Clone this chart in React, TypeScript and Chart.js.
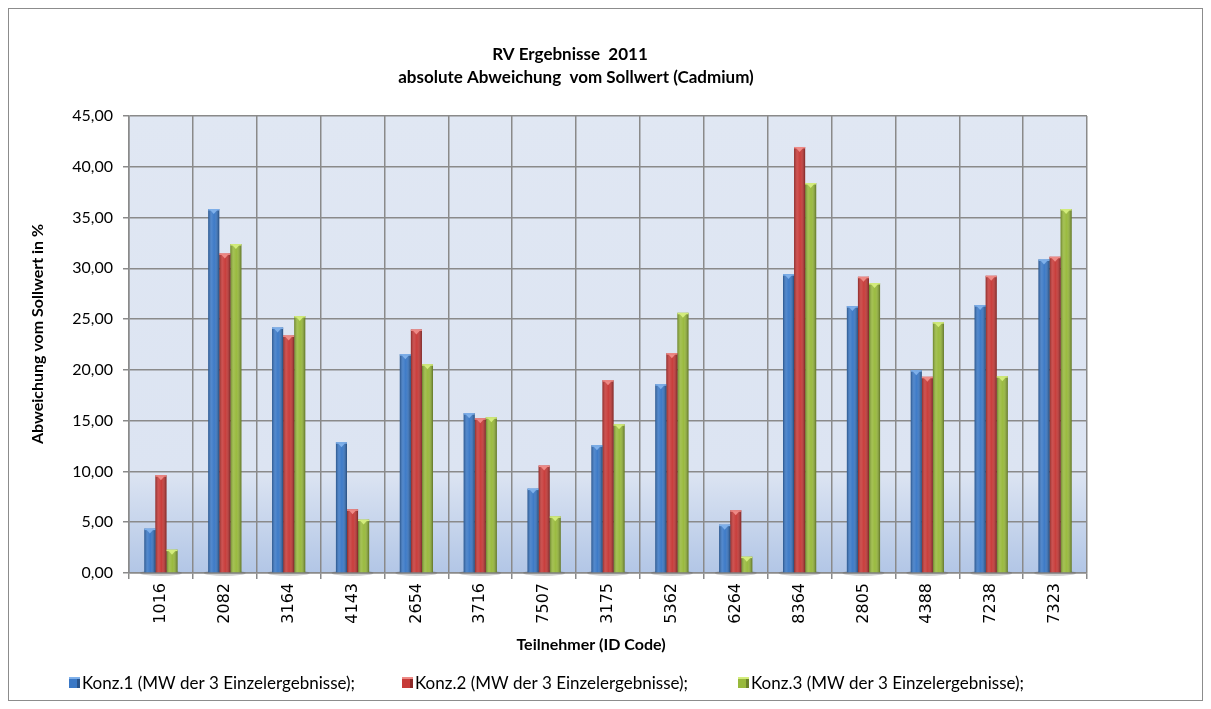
import React, { useEffect, useRef } from 'react';
import { Chart, registerables } from 'chart.js';

Chart.register(...registerables);

const categories = ['1016', '2082', '3164', '4143', '2654', '3716', '7507', '3175', '5362', '6264', '8364', '2805', '4388', '7238', '7323'];
const konz1 = [4.37, 35.84, 24.18, 12.88, 21.55, 15.74, 8.31, 12.58, 18.59, 4.76, 29.43, 26.28, 19.97, 26.38, 30.88];
const konz2 = [9.63, 31.47, 23.39, 6.27, 23.98, 15.24, 10.58, 18.99, 21.65, 6.18, 41.95, 29.17, 19.32, 29.27, 31.14];
const konz3 = [2.3, 32.39, 25.3, 5.26, 20.56, 15.34, 5.58, 14.65, 25.62, 1.61, 38.4, 28.55, 24.7, 19.38, 35.84];
const seriesLabels = ['Konz.1 (MW der 3 Einzelergebnisse);', 'Konz.2 (MW der 3 Einzelergebnisse);', 'Konz.3 (MW der 3 Einzelergebnisse);'];
const titleLines = ['RV Ergebnisse  2011', 'absolute Abweichung  vom Sollwert (Cadmium)'];
const xTitle = 'Teilnehmer (ID Code)';
const yTitle = 'Abweichung vom Sollwert in %';
const yMin = 0;
const yMax = 45;
const yStep = 5;

const seriesColors = ['#3a78c6', '#c73a38', '#98b93c'];
const capColors = ['#7fb0ea', '#ee8a86', '#d3ec7c'];

const FONT = 'Lato, "Open Sans", "Noto Sans", sans-serif';

export default function App() {
  const ref = useRef<HTMLCanvasElement | null>(null);

  useEffect(() => {
    if (!ref.current) return;

    const bgPlugin = {
      id: 'bgPlugin',
      beforeDraw(chart: any) {
        const { ctx, chartArea: a } = chart;
        const g = ctx.createLinearGradient(0, a.top, 0, a.bottom);
        g.addColorStop(0, '#e0e7f3');
        g.addColorStop(0.78, '#dce4f2');
        g.addColorStop(1, '#b2c6e6');
        ctx.save();
        ctx.fillStyle = g;
        ctx.fillRect(a.left, a.top, a.right - a.left, a.bottom - a.top);
        ctx.restore();
      },
      beforeDatasetsDraw(chart: any) {
        const { ctx, chartArea: a } = chart;
        const xs = chart.scales.x;
        ctx.save();
        categories.forEach((_, i) => {
          const cx = xs.getPixelForValue(i);
          ctx.fillStyle = 'rgba(90,90,90,0.28)';
          ctx.beginPath();
          ctx.ellipse(cx, a.bottom, 21, 3, 0, 0, Math.PI * 2);
          ctx.fill();
        });
        ctx.restore();
      },
      afterDatasetsDraw(chart: any) {
        const { ctx } = chart;
        ctx.save();
        chart.data.datasets.forEach((_: any, di: number) => {
          const meta = chart.getDatasetMeta(di);
          meta.data.forEach((bar: any) => {
            const { x, y, base, width } = bar.getProps(['x', 'y', 'base', 'width'], true);
            const left = x - width / 2;
            const h = base - y;
            const g = ctx.createLinearGradient(left, 0, left + width, 0);
            g.addColorStop(0, 'rgba(0,0,0,0.30)');
            g.addColorStop(0.3, 'rgba(255,255,255,0.12)');
            g.addColorStop(0.55, 'rgba(255,255,255,0.02)');
            g.addColorStop(1, 'rgba(0,0,0,0.38)');
            ctx.fillStyle = g;
            ctx.fillRect(left, y, width, h);
            ctx.fillStyle = capColors[di];
            ctx.fillRect(left, y, width, 1.5);
            ctx.beginPath();
            ctx.moveTo(left + 2, y + 1);
            ctx.lineTo(left + width - 2, y + 1);
            ctx.lineTo(x, y + Math.min(5, h));
            ctx.closePath();
            ctx.fill();
          });
        });
        ctx.restore();
      },
      afterDraw(chart: any) {
        const { ctx } = chart;
        ctx.save();
        ctx.fillStyle = '#000';
        ctx.textBaseline = 'middle';
        ctx.textAlign = 'center';
        ctx.font = `bold 17px ${FONT}`;
        ctx.fillText(titleLines[0], 561, 46);
        ctx.fillText(titleLines[1], 567, 69);
        ctx.font = `bold 16px ${FONT}`;
        ctx.fillText(xTitle, 582, 636);
        ctx.save();
        ctx.translate(29, 325);
        ctx.rotate(-Math.PI / 2);
        ctx.font = `bold 16px ${FONT}`;
        ctx.fillText(yTitle, 0, 0);
        ctx.restore();
        // legend
        const lx = [60, 393, 729];
        const ly = 674;
        ctx.textAlign = 'left';
        ctx.font = `17px ${FONT}`;
        seriesLabels.forEach((lab, i) => {
          const bx = lx[i];
          ctx.fillStyle = seriesColors[i];
          ctx.fillRect(bx, ly - 6, 11, 11);
          ctx.fillStyle = 'rgba(0,0,0,0.3)';
          ctx.fillRect(bx + 8, ly - 6, 3, 11);
          ctx.fillStyle = capColors[i];
          ctx.fillRect(bx, ly - 6, 11, 2);
          ctx.fillStyle = '#000';
          ctx.fillText(lab, bx + 13, ly + 1);
        });
        ctx.restore();
      },
    };

    const chart = new Chart(ref.current, {
      type: 'bar',
      data: {
        labels: categories,
        datasets: [
          { label: seriesLabels[0], data: konz1, backgroundColor: seriesColors[0] },
          { label: seriesLabels[1], data: konz2, backgroundColor: seriesColors[1] },
          { label: seriesLabels[2], data: konz3, backgroundColor: seriesColors[2] },
        ],
      },
      options: {
        responsive: false,
        animation: false,
        maintainAspectRatio: false,
        layout: { padding: { top: 107, right: 115, bottom: 0, left: 0 } },
        datasets: { bar: { categoryPercentage: 0.52, barPercentage: 1.0, borderWidth: 0 } },
        plugins: {
          legend: { display: false },
          title: { display: false },
          tooltip: { enabled: false },
        },
        scales: {
          x: {
            afterFit(s: any) { s.height = 127; },
            grid: { color: '#8a8a8a', lineWidth: 1.5, tickLength: 6, offset: true },
            border: { color: '#8a8a8a', width: 1.5 },
            ticks: {
              color: '#000',
              font: { family: '"DejaVu Sans", sans-serif', size: 16 },
              maxRotation: 90,
              minRotation: 90,
              padding: 4,
              autoSkip: false,
            },
          },
          y: {
            min: yMin,
            max: yMax,
            afterFit(s: any) { s.width = 120; },
            grid: { color: '#8a8a8a', lineWidth: 1.5, tickLength: 6 },
            border: { color: '#8a8a8a', width: 1.5 },
            ticks: {
              stepSize: yStep,
              color: '#000',
              padding: 10,
              font: { family: FONT, size: 16 },
              callback: (v: any) => Number(v).toFixed(2).replace('.', ','),
            },
          },
        },
      },
      plugins: [bgPlugin],
    });
    return () => chart.destroy();
  }, []);

  return (
    <div style={{ width: 1195, height: 693, border: '1px solid #8c8c8c', boxSizing: 'border-box', background: '#fff' }}>
      <canvas ref={ref} width={1193} height={691} style={{ display: 'block', width: 1193, height: 691 }} />
    </div>
  );
}
